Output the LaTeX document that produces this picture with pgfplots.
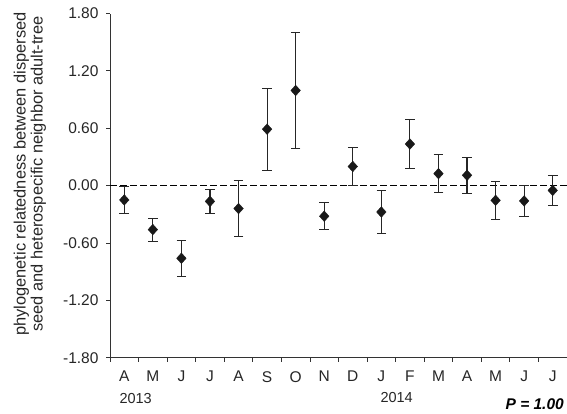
\documentclass[border=0pt]{standalone}
\usepackage{fontspec}
\setmainfont{Liberation Sans}
\usepackage{pgfplots}
\usepackage{pgfplotstable}
\pgfplotsset{compat=1.18}

% month, mean, half width of the interval
\pgfplotstableread{
x y e
1 -0.15 0.14
2 -0.46 0.12
3 -0.76 0.19
4 -0.165 0.125
5 -0.24 0.295
6 0.59 0.43
7 0.995 0.61
8 -0.32 0.14
9 0.20 0.20
10 -0.276 0.225
11 0.435 0.255
12 0.125 0.20
13 0.108 0.19
14 -0.154 0.20
15 -0.16 0.16
16 -0.05 0.155
}\reldata

\begin{document}
\begin{tikzpicture}
\useasboundingbox (0,0) rectangle (567pt,413pt);
\begin{axis}[
    at={(110pt,55.3pt)}, anchor=south west,
    width=457pt, height=344.2pt, scale only axis,
    xmin=0.5, xmax=16.5, ymin=-1.8, ymax=1.8,
    axis x line*=bottom, axis y line*=left,
    axis line style={-, line width=1pt, black!80},
    tick align=outside,
    xtick={1,...,16},
    xticklabels={A,M,J,J,A,S,O,N,D,J,F,M,A,M,J,J},
    major x tick style={draw=none},
    minor xtick={0.5,1.5,...,16.5},
    minor tick length=4pt, major tick length=4pt,
    tick style={line width=0.8pt, black!80},
    ytick={-1.8,-1.2,-0.6,0,0.6,1.2,1.8},
    /pgf/number format/fixed,
    /pgf/number format/fixed zerofill,
    /pgf/number format/precision=2,
    /pgf/number format/assume math mode=true,
    ticklabel style={font=\fontsize{15.5}{17}\selectfont, text=black!85},
    xticklabel style={yshift=-6pt},
    yticklabel style={xshift=-4pt},
    clip=false,
]
\addplot[black, line width=1.2pt, dash pattern=on 6.5pt off 3.5pt] coordinates {(0.5,0) (16.5,0)};
\addplot[only marks, mark=diamond*, mark size=5.3pt, mark options={xscale=1.2, black!90},
    error bars/.cd, y dir=both, y explicit,
    error bar style={line width=1.1pt, black!85},
    error mark options={rotate=90, mark size=4.8pt, line width=1.1pt, black!85}]
    table[x=x, y=y, y error=e] {\reldata};
\end{axis}
\node[rotate=90, align=center, font=\fontsize{16.4}{17}\selectfont, text=black!85] at (30pt,239pt)
    {phylogenetic relatedness between dispersed\\seed and heterospecific neighbor adult-tree};
\node[anchor=west, font=\fontsize{14.5}{17}\selectfont, text=black!85] at (116pt,14pt) {2013};
\node[anchor=west, font=\fontsize{14.5}{17}\selectfont, text=black!85] at (377pt,15pt) {2014};
\node[anchor=east, inner sep=0pt, font=\fontsize{15.5}{17}\selectfont\bfseries\itshape] at (564pt,8.5pt) {P = 1.00};
\end{tikzpicture}
\end{document}
